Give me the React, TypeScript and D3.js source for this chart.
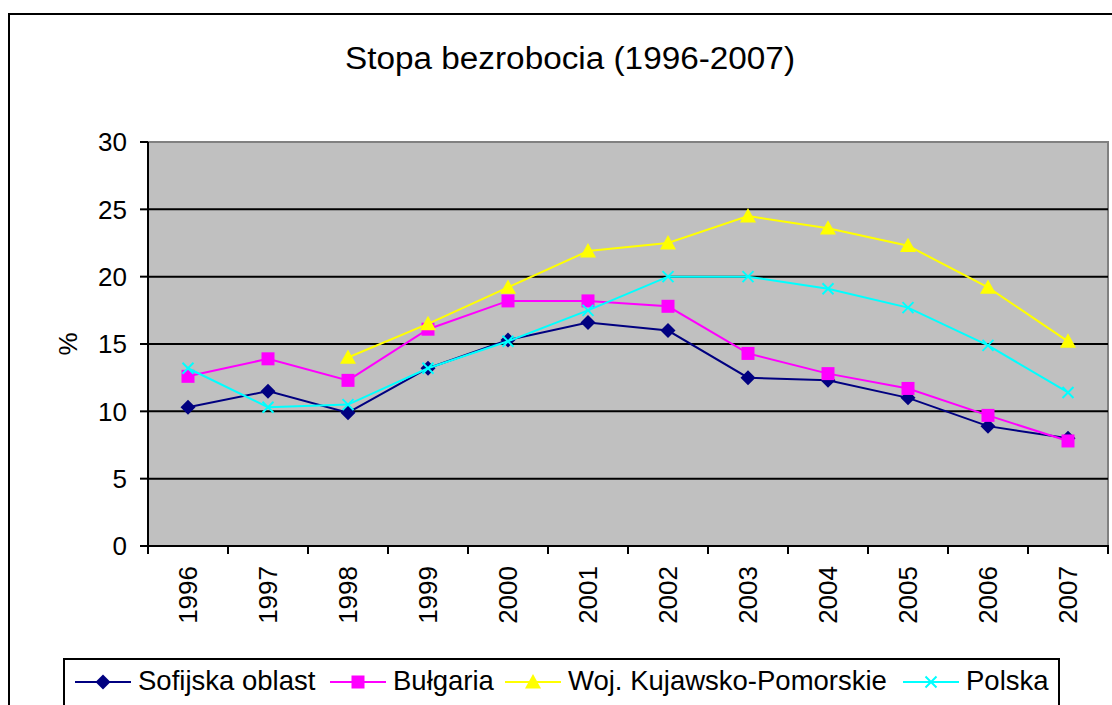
import React from "react";
import * as d3 from "d3";

// data
const years = ["1996", "1997", "1998", "1999", "2000", "2001", "2002", "2003", "2004", "2005", "2006", "2007"];
const sofijska = [10.3, 11.5, 9.9, 13.2, 15.3, 16.6, 16.0, 12.5, 12.3, 11.0, 8.9, 8.0];
const bulgaria = [12.6, 13.9, 12.3, 16.1, 18.2, 18.2, 17.8, 14.3, 12.8, 11.7, 9.7, 7.8];
const kujawsko = [null, null, 14.0, 16.5, 19.2, 21.9, 22.5, 24.5, 23.6, 22.3, 19.2, 15.2];
const polska = [13.2, 10.3, 10.5, 13.2, 15.2, 17.5, 20.0, 20.0, 19.1, 17.7, 14.9, 11.4];
const yTicks = [0, 5, 10, 15, 20, 25, 30];

const series = [
  { name: "Sofijska oblast", values: sofijska, color: "#000080", marker: "diamond" },
  { name: "Bułgaria", values: bulgaria, color: "#FF00FF", marker: "square" },
  { name: "Woj. Kujawsko-Pomorskie", values: kujawsko, color: "#FFFF00", marker: "triangle" },
  { name: "Polska", values: polska, color: "#00FFFF", marker: "x" },
];

const W = 1112;
const H = 705;
const plot = { left: 148, right: 1108, top: 142, bottom: 546 };
const font = "Arial, 'Liberation Sans', sans-serif";

function Marker({ type, x, y, color }: { type: string; x: number; y: number; color: string }) {
  if (type === "diamond") {
    const s = 7.5;
    return <path d={`M${x},${y - s}L${x + s},${y}L${x},${y + s}L${x - s},${y}Z`} fill={color} />;
  }
  if (type === "square") {
    const s = 6.5;
    return <rect x={x - s} y={y - s} width={2 * s} height={2 * s} fill={color} />;
  }
  if (type === "triangle") {
    const s = 8;
    return <path d={`M${x},${y - s}L${x + s},${y + s * 0.8}L${x - s},${y + s * 0.8}Z`} fill={color} />;
  }
  const s = 5.5;
  return (
    <path d={`M${x - s},${y - s}L${x + s},${y + s}M${x - s},${y + s}L${x + s},${y - s}`} stroke={color} strokeWidth={2} />
  );
}

export default function App() {
  const x = d3.scaleBand().domain(years).range([plot.left, plot.right]);
  const y = d3.scaleLinear().domain([0, 30]).range([plot.bottom, plot.top]);
  const cx = (yr: string) => (x(yr) as number) + x.bandwidth() / 2;

  const line = d3
    .line<number | null>()
    .defined((d) => d != null)
    .x((_, i) => cx(years[i]))
    .y((d) => y(d as number));

  const legendItems = [
    { lx: 75, tx: 138 },
    { lx: 330, tx: 393 },
    { lx: 505, tx: 568 },
    { lx: 903, tx: 966 },
  ];

  return (
    <div style={{ position: "fixed", left: 0, top: 0 }}>
      <svg width={W} height={H} style={{ display: "block", background: "#fff" }}>
        {/* chart border */}
        <rect x={9} y={14} width={1120} height={720} fill="#fff" stroke="#000" strokeWidth={2} />

        <text x={570} y={69} textAnchor="middle" fontFamily={font} fontSize={31} textLength={450} lengthAdjust="spacingAndGlyphs">
          Stopa bezrobocia (1996-2007)
        </text>

        {/* plot area */}
        <rect x={plot.left} y={plot.top} width={plot.right - plot.left} height={plot.bottom - plot.top} fill="#C0C0C0" stroke="#808080" strokeWidth={2} />

        {yTicks.filter((t) => t > 0 && t < 30).map((t) => (
          <line key={t} x1={plot.left} x2={plot.right} y1={y(t)} y2={y(t)} stroke="#000" strokeWidth={2} />
        ))}

        {/* axes */}
        <line x1={plot.left} x2={plot.left} y1={plot.top} y2={plot.bottom + 8} stroke="#000" strokeWidth={2} />
        <line x1={plot.left - 8} x2={plot.right + 1} y1={plot.bottom} y2={plot.bottom} stroke="#000" strokeWidth={2} />
        {yTicks.map((t) => (
          <g key={t}>
            <line x1={plot.left - 8} x2={plot.left} y1={y(t)} y2={y(t)} stroke="#000" strokeWidth={2} />
            <text x={plot.left - 21} y={y(t)} dy="0.36em" textAnchor="end" fontFamily={font} fontSize={26}>
              {t}
            </text>
          </g>
        ))}
        {years.map((yr) => (
          <g key={yr}>
            <line x1={(x(yr) as number) + x.bandwidth()} x2={(x(yr) as number) + x.bandwidth()} y1={plot.bottom} y2={plot.bottom + 8} stroke="#000" strokeWidth={2} />
            <text
              transform={`translate(${cx(yr)},${566}) rotate(-90)`}
              dy="0.36em"
              textAnchor="end"
              fontFamily={font}
              fontSize={26}
            >
              {yr}
            </text>
          </g>
        ))}
        <text transform={`translate(68,${y(15)}) rotate(-90)`} textAnchor="middle" dy="0.36em" fontFamily={font} fontSize={26}>
          %
        </text>

        {/* series */}
        {series.map((s) => (
          <g key={s.name}>
            <path d={line(s.values) || ""} fill="none" stroke={s.color} strokeWidth={2} />
            {s.values.map((v, i) =>
              v == null ? null : <Marker key={i} type={s.marker} x={cx(years[i])} y={y(v)} color={s.color} />
            )}
          </g>
        ))}

        {/* legend */}
        <rect x={64} y={659} width={995} height={60} fill="#fff" stroke="#000" strokeWidth={2} />
        {series.map((s, i) => (
          <g key={s.name}>
            <line x1={legendItems[i].lx} x2={legendItems[i].lx + 56} y1={682} y2={682} stroke={s.color} strokeWidth={2} />
            <Marker type={s.marker} x={legendItems[i].lx + 28} y={682} color={s.color} />
            <text x={legendItems[i].tx} y={690} fontFamily={font} fontSize={27.5}>
              {s.name}
            </text>
          </g>
        ))}
      </svg>
    </div>
  );
}
